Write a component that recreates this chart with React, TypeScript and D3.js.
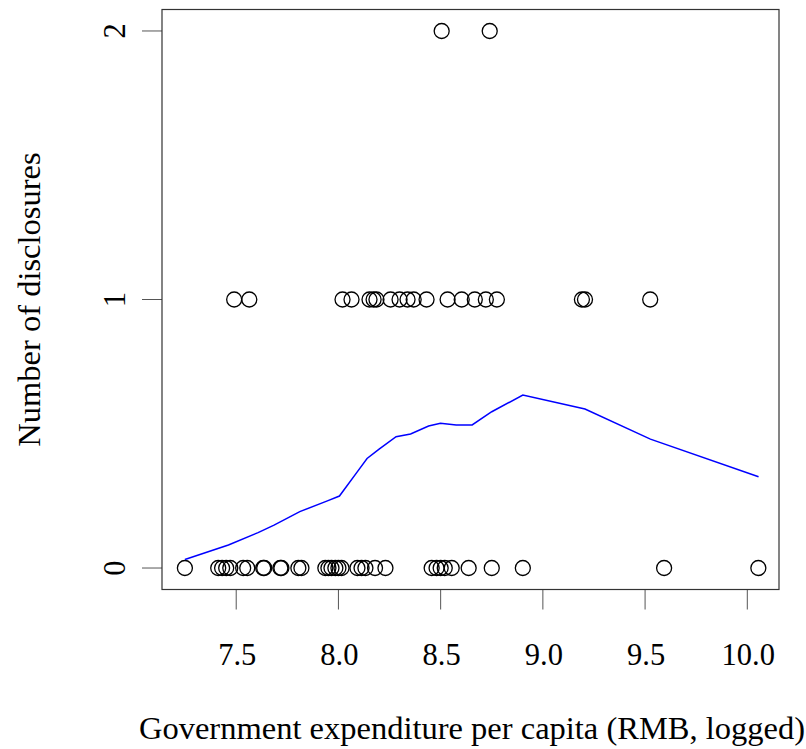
import { useEffect, useRef } from 'react';
import * as d3 from 'd3';

// observed cities: log expenditure per capita and number of disclosures
const SPENDING_ZERO = [
  7.249, 7.412, 7.431, 7.451, 7.471, 7.534, 7.554, 7.632, 7.637, 7.716, 7.721,
  7.804, 7.819, 7.936, 7.951, 7.966, 7.985, 8.0, 8.015, 8.093, 8.113, 8.132,
  8.179, 8.23, 8.456, 8.48, 8.5, 8.52, 8.554, 8.637, 8.75, 8.902, 9.593, 10.054,
];
const SPENDING_ONE = [
  7.49, 7.564, 8.02, 8.064, 8.152, 8.172, 8.186, 8.255, 8.299, 8.338, 8.368,
  8.431, 8.534, 8.603, 8.667, 8.721, 8.775, 9.191, 9.206, 9.525,
];
const SPENDING_TWO = [8.505, 8.74];

// lowess fit
const FIT_X = [
  7.249, 7.462, 7.607, 7.685, 7.811, 7.946, 8.005, 8.092, 8.14, 8.199, 8.282,
  8.353, 8.441, 8.499, 8.576, 8.654, 8.75, 8.902, 9.206, 9.526, 10.055,
];
const FIT_Y = [
  0.032, 0.086, 0.132, 0.16, 0.21, 0.25, 0.268, 0.358, 0.408, 0.443, 0.489,
  0.499, 0.529, 0.539, 0.533, 0.533, 0.582, 0.644, 0.592, 0.48, 0.34,
];

const X_TICKS = [7.5, 8.0, 8.5, 9.0, 9.5, 10.0];
const Y_TICKS = [0, 1, 2];

const WIDTH = 806;
const HEIGHT = 749;
const BOX = { left: 162, right: 779, top: 9.5, bottom: 589.5 };
const FONT = '"Liberation Serif", "Times New Roman", serif';

export default function App() {
  const ref = useRef<SVGSVGElement | null>(null);

  useEffect(() => {
    if (!ref.current) return;
    const svg = d3.select(ref.current);
    svg.selectAll('*').remove();

    const x = d3.scaleLinear().domain([7.137, 10.155]).range([BOX.left, BOX.right]);
    const y = d3.scaleLinear().domain([-0.08, 2.08]).range([BOX.bottom, BOX.top]);

    svg.append('rect')
      .attr('width', WIDTH)
      .attr('height', HEIGHT)
      .attr('fill', '#fff');

    // x axis
    X_TICKS.forEach((t) => {
      svg.append('line')
        .attr('x1', x(t))
        .attr('x2', x(t))
        .attr('y1', BOX.bottom)
        .attr('y2', BOX.bottom + 20)
        .attr('stroke', '#555')
        .attr('stroke-width', 1);
      svg.append('text')
        .attr('x', x(t) + 1)
        .attr('y', 665)
        .attr('text-anchor', 'middle')
        .attr('font-family', FONT)
        .attr('font-size', 30.5)
        .text(t.toFixed(1));
    });

    // y axis
    Y_TICKS.forEach((t) => {
      svg.append('line')
        .attr('x1', BOX.left - 20)
        .attr('x2', BOX.left)
        .attr('y1', y(t))
        .attr('y2', y(t))
        .attr('stroke', '#555')
        .attr('stroke-width', 1);
      svg.append('text')
        .attr('transform', `translate(125,${y(t)}) rotate(-90)`)
        .attr('text-anchor', 'middle')
        .attr('font-family', FONT)
        .attr('font-size', 30.5)
        .text(String(t));
    });

    svg.append('rect')
      .attr('x', BOX.left)
      .attr('y', BOX.top)
      .attr('width', BOX.right - BOX.left)
      .attr('height', BOX.bottom - BOX.top)
      .attr('fill', 'none')
      .attr('stroke', '#333')
      .attr('stroke-width', 1.2);

    const points = [
      ...SPENDING_ZERO.map((v) => [v, 0]),
      ...SPENDING_ONE.map((v) => [v, 1]),
      ...SPENDING_TWO.map((v) => [v, 2]),
    ];
    svg.append('g')
      .selectAll('circle')
      .data(points)
      .join('circle')
      .attr('cx', (d) => x(d[0]))
      .attr('cy', (d) => y(d[1]))
      .attr('r', 7.5)
      .attr('fill', 'none')
      .attr('stroke', '#000')
      .attr('stroke-width', 1.3);

    const line = d3
      .line<number>()
      .x((d) => x(d))
      .y((_, i) => y(FIT_Y[i]));
    svg.append('path')
      .datum(FIT_X)
      .attr('fill', 'none')
      .attr('stroke', '#0000ff')
      .attr('stroke-width', 1.5)
      .attr('d', line as unknown as string);

    svg.append('text')
      .attr('x', 472)
      .attr('y', 739)
      .attr('text-anchor', 'middle')
      .attr('font-family', FONT)
      .attr('font-size', 32.5)
      .text('Government expenditure per capita (RMB, logged)');

    svg.append('text')
      .attr('transform', `translate(40,${(BOX.top + BOX.bottom) / 2}) rotate(-90)`)
      .attr('text-anchor', 'middle')
      .attr('font-family', FONT)
      .attr('font-size', 32.5)
      .text('Number of disclosures');
  }, []);

  return (
    <svg
      ref={ref}
      width={WIDTH}
      height={HEIGHT}
      style={{ position: 'absolute', left: 0, top: 0, display: 'block' }}
    />
  );
}
